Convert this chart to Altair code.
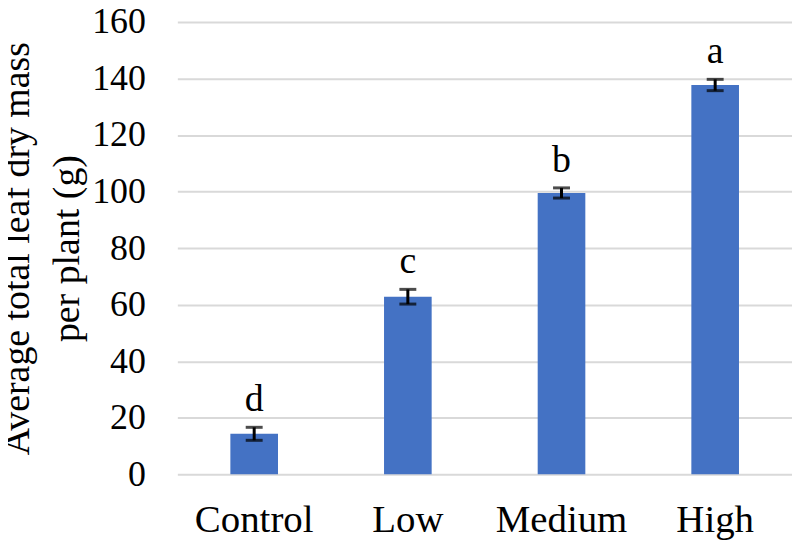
import altair as alt
import pandas as pd

categories = ["Control", "Low", "Medium", "High"]
means = [14.3, 62.8, 99.5, 137.7]
errors = [2.3, 2.6, 1.8, 2.0]
letters = ["d", "c", "b", "a"]

df = pd.DataFrame({
    "cat": categories,
    "mean": means,
    "err": errors,
    "letter": letters,
})
df["lo"] = df["mean"] - df["err"]
df["hi"] = df["mean"] + df["err"]

FONT = "Liberation Serif"

x = alt.X("cat:N", sort=categories, title=None,
          scale=alt.Scale(paddingInner=0.69, paddingOuter=0.345),
          axis=alt.Axis(labelAngle=0, labelFontSize=39, labelPadding=26,
                        domain=False, ticks=False, grid=False))
y_axis = alt.Axis(values=list(range(0, 161, 20)), labelFontSize=36, labelPadding=32,
                  domain=False, ticks=False, grid=True, gridColor="#d9d9d9", gridWidth=2,
                  title=["Average total leaf dry mass", "per plant (g)"],
                  titleFontSize=38, titleLineHeight=50, titleBaseline="alphabetic",
                  titleX=-149, titleY=227, titleAngle=-90)
y = alt.Y("mean:Q", scale=alt.Scale(domain=[0, 160], nice=False), axis=y_axis)

bars = alt.Chart(df).mark_bar(color="#4472C4").encode(x=x, y=y)

err = alt.Chart(df).mark_rule(color="#000000", strokeWidth=3).encode(
    x=alt.X("cat:N", sort=categories), y="lo:Q", y2="hi:Q")
cap_lo = alt.Chart(df).mark_tick(color="#000000", thickness=3, size=17, orient="horizontal").encode(
    x=alt.X("cat:N", sort=categories), y="lo:Q")
cap_hi = alt.Chart(df).mark_tick(color="#000000", thickness=3, size=17, orient="horizontal").encode(
    x=alt.X("cat:N", sort=categories), y="hi:Q")

text = alt.Chart(df).mark_text(font=FONT, fontSize=38, color="#000000",
                               baseline="alphabetic", dy=-16).encode(
    x=alt.X("cat:N", sort=categories), y="hi:Q", text="letter:N")

chart = alt.layer(bars, err, cap_lo, cap_hi, text).properties(
    width=617, height=454,
    padding={"left": 170, "top": 13, "right": 0, "bottom": 65},
    autosize=alt.AutoSizeParams(type="none"),
).configure(font=FONT).configure_view(stroke=None).configure_axis(
    labelFont=FONT, labelColor="#000000",
    titleFont=FONT, titleFontWeight="normal", titleColor="#000000",
)

chart.save("out.html", embed_options={"renderer": "svg", "actions": False})
